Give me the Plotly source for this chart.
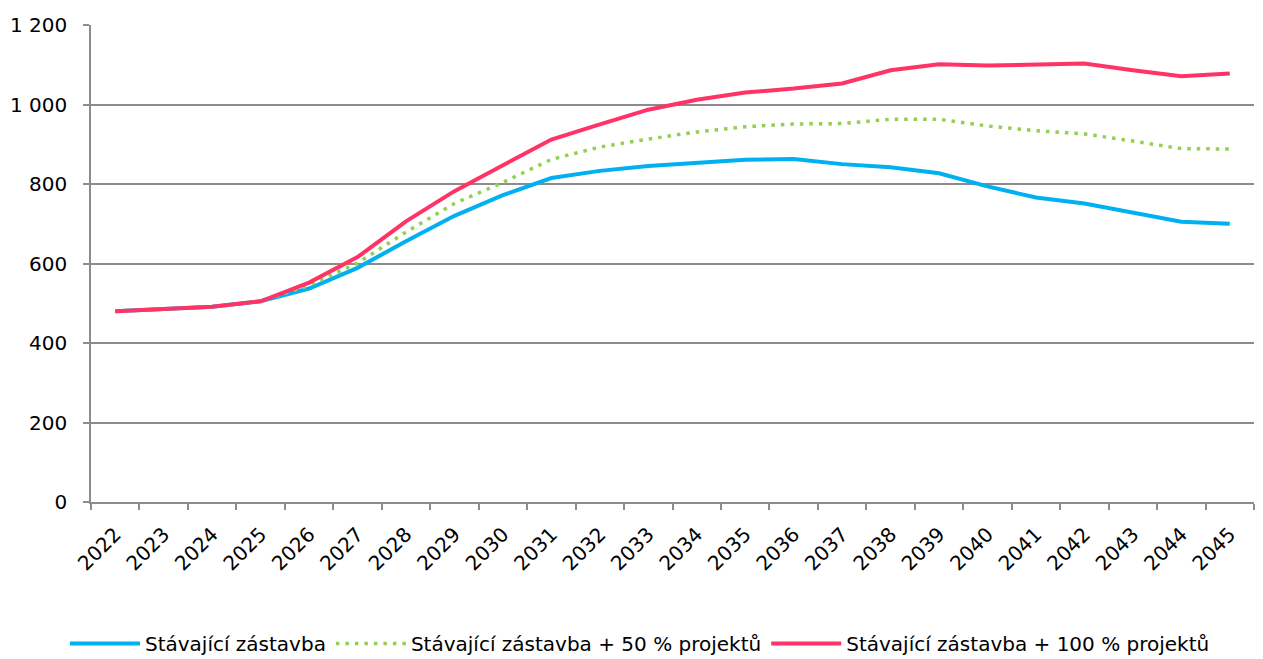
import plotly.graph_objects as go

years = [str(y) for y in range(2022, 2046)]
base = [480, 485, 491, 505, 537, 589, 656, 720, 772, 815, 833, 845, 854, 861, 863, 850, 842, 827, 794, 766, 751, 728, 705, 700]
plus50 = [480, 485, 491, 505, 545, 601, 679, 751, 804, 862, 893, 913, 931, 944, 951, 952, 963, 963, 946, 934, 926, 908, 889, 888]
plus100 = [480, 485, 491, 505, 552, 616, 706, 782, 848, 912, 950, 987, 1012, 1030, 1040, 1053, 1086, 1101, 1098, 1100, 1103, 1086, 1071, 1078]

names = ["Stávající zástavba", "Stávající zástavba + 50 % projektů", "Stávající zástavba + 100 % projektů"]

FONT = "DejaVu Sans"
fig = go.Figure()
fig.add_trace(go.Scatter(x=years, y=base, mode="lines", name=names[0],
                         line=dict(color="#00B0F0", width=4)))
fig.add_trace(go.Scatter(x=years, y=plus50, mode="lines", name=names[1],
                         line=dict(color="#92D050", width=3.5, dash="3.5px,6px")))
fig.add_trace(go.Scatter(x=years, y=plus100, mode="lines", name=names[2],
                         line=dict(color="#FF3366", width=4)))

grid = "#8C8C8C"
fig.update_layout(
    width=1255, height=651,
    margin=dict(l=83, r=9, t=17, b=157, autoexpand=False),
    paper_bgcolor="white", plot_bgcolor="white",
    separators=", ",
    font=dict(family=FONT, size=20, color="#000000"),
    showlegend=True,
    legend=dict(orientation="h", x=0.472, xanchor="center", y=-0.256, yanchor="top",
                font=dict(family=FONT, size=20, color="#000000"),
                itemwidth=70, traceorder="normal"),
    xaxis=dict(type="category", range=[-0.5, 23.5], tickson="boundaries",
               ticks="outside", ticklen=6, tickcolor=grid, tickwidth=1.5,
               showline=True, linecolor=grid, linewidth=1.5, ticklabelstandoff=11,
               showgrid=False, tickangle=-45, zeroline=False),
    yaxis=dict(range=[0, 1200], dtick=200, tickformat=",d",
               ticks="outside", ticklen=6, tickcolor=grid, tickwidth=1.5,
               showline=True, linecolor=grid, linewidth=1.5, ticklabelstandoff=12,
               showgrid=True, gridcolor=grid, gridwidth=1.5, zeroline=False),
)

fig.write_html("out.html")
